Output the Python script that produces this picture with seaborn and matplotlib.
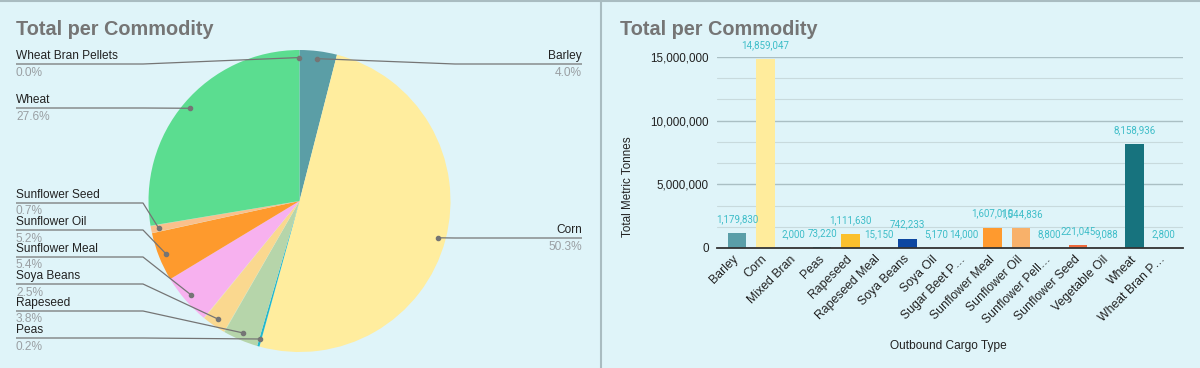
import numpy as np
import pandas as pd
import matplotlib
matplotlib.use('Agg')
import matplotlib.pyplot as plt
import seaborn as sns

#%% data
commodities = ['Barley', 'Corn', 'Mixed Bran', 'Peas', 'Rapeseed', 'Rapeseed Meal', 'Soya Beans',
               'Soya Oil', 'Sugar Beet Pellets', 'Sunflower Meal', 'Sunflower Oil', 'Sunflower Pellets',
               'Sunflower Seed', 'Vegetable Oil', 'Wheat', 'Wheat Bran Pellets']
tick_labels = ['Barley', 'Corn', 'Mixed Bran', 'Peas', 'Rapeseed', 'Rapeseed Meal', 'Soya Beans',
               'Soya Oil', 'Sugar Beet P…', 'Sunflower Meal', 'Sunflower Oil', 'Sunflower Pell…',
               'Sunflower Seed', 'Vegetable Oil', 'Wheat', 'Wheat Bran P…']
tonnes = [1179830, 14859047, 2000, 73220, 1111630, 15150, 742233,
          5170, 14000, 1607010, 1544836, 8800,
          221045, 9088, 8158936, 2800]

bar_colors = ['#5a9ea8', '#ffec9c', '#3b4a66', '#26b6c8', '#fbc02d', '#8d6e63', '#0d47a1',
              '#7b1fa2', '#5d4037', '#ff9a2e', '#f8b16a', '#c2185b',
              '#ef6a3c', '#455a64', '#17737e', '#0097a7']
pie_colors = ['#5b9ea6', '#ffed9e', '#80cbc4', '#22b8cc', '#b6d5aa', '#c5e1a5', '#fad88f',
              '#e6ee9c', '#ffe082', '#f7b1ef', '#fe9a2d', '#ffcc80',
              '#fac08c', '#a5d6a7', '#5bdd90', '#4db6ac']

# pie labels: name -> (side, y of leader line in px)
pie_label_rows = {'Wheat Bran Pellets': ('left', 64), 'Wheat': ('left', 108),
                  'Sunflower Seed': ('left', 203), 'Sunflower Oil': ('left', 230),
                  'Sunflower Meal': ('left', 257), 'Soya Beans': ('left', 284),
                  'Rapeseed': ('left', 311), 'Peas': ('left', 338),
                  'Barley': ('right', 64), 'Corn': ('right', 238)}

df = pd.DataFrame({'commodity': commodities, 'tonnes': tonnes})

#%% figure
W, H = 1200, 368
bg = '#dff4f9'
sns.set_theme(style='white')
plt.rcParams['font.family'] = ['Liberation Sans', 'DejaVu Sans']

fig = plt.figure(figsize=(W/100, H/100), dpi=100, facecolor=bg)

# pie
cx, cy, R = 299.5, 201, 151
ax_pie = fig.add_axes([(cx-R)/W, 1-(cy+R)/H, 2*R/W, 2*R/H])
ax_pie.pie(df['tonnes'], colors=pie_colors, startangle=90, counterclock=False,
           wedgeprops=dict(linewidth=0))
ax_pie.set_xlim(-1, 1)
ax_pie.set_ylim(-1, 1)
ax_pie.axis('off')

# bar chart
x0, x1, yb, yt = 717, 1183, 248, 57
ax = fig.add_axes([x0/W, 1-yb/H, (x1-x0)/W, (yb-yt)/H])
ax.set_facecolor('none')
sns.barplot(data=df, x='commodity', y='tonnes', hue='commodity', palette=bar_colors,
            legend=False, width=0.65, ax=ax, saturation=1, linewidth=0)
ax.set_xlim(-0.7, 15.7)
ax.set_ylim(0, 15000000)
ax.set_yticks([0, 5000000, 10000000, 15000000])
ax.set_yticklabels(['{:,.0f}'.format(v) for v in ax.get_yticks()], fontsize=8.4, color='#222222')
ax.set_yticks(np.arange(0, 15000001, 5000000/3), minor=True)
ax.grid(axis='y', which='major', color='#aabfc4', linewidth=1)
ax.grid(axis='y', which='minor', color='#c8dadd', linewidth=0.8)
ax.set_axisbelow(True)
ax.tick_params(axis='y', length=0, pad=6)
ax.tick_params(axis='x', length=0, pad=2)
ax.set_xticks(range(len(tick_labels)))
ax.set_xticklabels(tick_labels, rotation=45, ha='right', va='center', rotation_mode='anchor',
                   fontsize=8.8, color='#222222')
for t in ax.get_xticklabels():
    t.set_y(-0.035)
for s in ['top', 'right', 'left']:
    ax.spines[s].set_visible(False)
ax.spines['bottom'].set_color('#333333')
ax.spines['bottom'].set_linewidth(1.3)
ax.set_xlabel('')
ax.set_ylabel('')
for i, v in enumerate(tonnes):
    ax.annotate('{:,}'.format(v), xy=(i, v), xytext=(0, 10), textcoords='offset points',
                ha='center', va='center', fontsize=7, color='#3dbdc8', family='Roboto',
                annotation_clip=False)

# overlay in pixel coords for titles, pie labels and frame lines
ov = fig.add_axes([0, 0, 1, 1], zorder=10)
ov.set_xlim(0, W)
ov.set_ylim(H, 0)
ov.axis('off')
ov.patch.set_alpha(0)

for xt in [16, 620]:
    ov.text(xt, 35, 'Total per Commodity', fontsize=14.3, fontweight='bold', color='#757575',
            ha='left', va='baseline')

ov.text(628, 187, 'Total Metric Tonnes', rotation=90, fontsize=8.4, color='#222222',
        ha='center', va='center')
ov.text(948, 346, 'Outbound Cargo Type', fontsize=8.6, color='#222222', ha='center', va='center')

total = float(sum(tonnes))
cum = np.cumsum([0] + tonnes)
mid_deg = (cum[:-1] + cum[1:]) / 2 / total * 360
lc = '#757575'
for i, name in enumerate(commodities):
    if name not in pie_label_rows:
        continue
    side, ly = pie_label_rows[name]
    a = np.deg2rad(mid_deg[i])
    axp = cx + 0.95*R*np.sin(a)
    ayp = cy - 0.95*R*np.cos(a)
    pct = '{:.1f}%'.format(tonnes[i]/total*100)
    if side == 'left':
        tx, elbow, ha = 16, 143, 'left'
    else:
        tx, elbow, ha = 582, 455, 'right'
    ov.plot([tx, elbow, axp], [ly, ly, ayp], color=lc, lw=0.9, solid_capstyle='butt')
    ov.plot([axp], [ayp], 'o', ms=3, color=lc)
    ov.text(tx, ly-2, name, fontsize=8.6, color='#222222', ha=ha, va='bottom')
    ov.text(tx, ly+2.5, pct, fontsize=8.6, color='#9a9fa3', ha=ha, va='top')

# frame lines
ov.plot([0, W], [0.5, 0.5], color='#a9bcc1', lw=1.5)
ov.plot([600.5, 600.5], [0, H], color='#a9bcc1', lw=1.5)

fig.savefig('out.png', dpi=100, facecolor=bg)
